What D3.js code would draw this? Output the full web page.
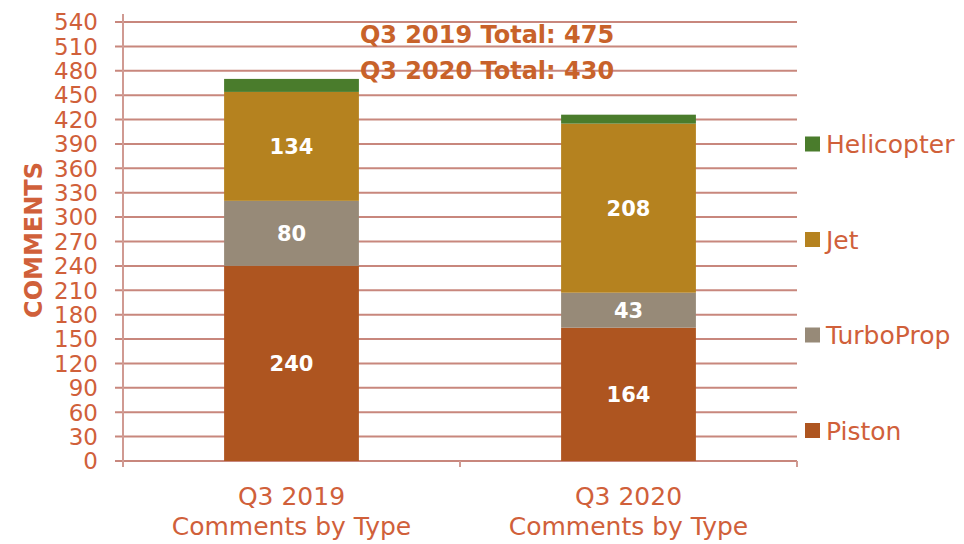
<!DOCTYPE html>
<html>
<head>
<meta charset="utf-8">
<script src="https://cdn.jsdelivr.net/npm/d3@7"></script>
<style>
  body { margin: 0; background: #fff; }
  svg { font-family: "DejaVu Sans", sans-serif; }
</style>
</head>
<body>
<div id="chart"></div>
<script>
// data
var categories = ["Q3 2019", "Q3 2020"];
var seriesNames = ["Piston", "TurboProp", "Jet", "Helicopter"];
var piston = [240, 164];
var turboProp = [80, 43];
var jet = [134, 208];
var helicopter = [16, 11];
var totals = [475, 430];
var yTicks = d3.range(0, 541, 30);

var colors = {
  Piston: "#ae5520",
  TurboProp: "#978a78",
  Jet: "#b5821f",
  Helicopter: "#4a7c2c"
};
var textColor = "#d0603a";
var gridColor = "#c8877d";

var width = 964, height = 544;
var margin = { top: 22, right: 167, bottom: 83, left: 123 };
var plotW = width - margin.left - margin.right;
var plotH = height - margin.top - margin.bottom;

var svg = d3.select("#chart").append("svg")
  .attr("width", width)
  .attr("height", height);

var chartGroup = svg.append("g")
  .attr("transform", `translate(${margin.left}, ${margin.top})`);

// build rows for the stack
var rows = categories.map(function (c, i) {
  return { cat: c, Piston: piston[i], TurboProp: turboProp[i], Jet: jet[i], Helicopter: helicopter[i] };
});
var stacked = d3.stack().keys(seriesNames)(rows);

var xScale = d3.scaleBand().domain(categories).range([0, plotW]).padding(0);
var yScale = d3.scaleLinear().domain([0, 540]).range([plotH, 0]);

// gridlines
chartGroup.append("g")
  .selectAll("line")
  .data(yTicks)
  .enter()
  .append("line")
  .attr("x1", -8)
  .attr("x2", plotW)
  .attr("y1", d => yScale(d))
  .attr("y2", d => yScale(d))
  .attr("stroke", gridColor)
  .attr("stroke-width", 2);

// y axis line
chartGroup.append("line")
  .attr("x1", 0).attr("x2", 0)
  .attr("y1", -8).attr("y2", plotH + 6)
  .attr("stroke", "#d09a92")
  .attr("stroke-width", 2);

// category boundary ticks
chartGroup.append("g")
  .selectAll("line")
  .data([1, 2])
  .enter()
  .append("line")
  .attr("x1", d => d === 2 ? plotW : xScale(categories[d]))
  .attr("x2", d => d === 2 ? plotW : xScale(categories[d]))
  .attr("y1", plotH)
  .attr("y2", plotH + 6)
  .attr("stroke", "#d09a92")
  .attr("stroke-width", 2);

// y tick labels
chartGroup.append("g")
  .selectAll("text")
  .data(yTicks)
  .enter()
  .append("text")
  .attr("x", -25)
  .attr("y", d => yScale(d))
  .attr("dy", "0.36em")
  .attr("text-anchor", "end")
  .attr("font-size", "23px")
  .attr("fill", textColor)
  .text(d => d);

// bars
var barW = xScale.bandwidth() * 0.4;
var layers = chartGroup.append("g")
  .selectAll("g")
  .data(stacked)
  .enter()
  .append("g")
  .attr("fill", d => colors[d.key]);

layers.selectAll("rect")
  .data(d => d)
  .enter()
  .append("rect")
  .attr("x", d => xScale(d.data.cat) + (xScale.bandwidth() - barW) / 2)
  .attr("y", d => yScale(d[1]))
  .attr("width", barW)
  .attr("height", d => yScale(d[0]) - yScale(d[1]));

// value labels (not helicopter)
stacked.filter(s => s.key !== "Helicopter").forEach(function (s) {
  chartGroup.append("g")
    .selectAll("text")
    .data(s)
    .enter()
    .append("text")
    .attr("x", d => xScale(d.data.cat) + xScale.bandwidth() / 2)
    .attr("y", d => yScale((d[0] + d[1]) / 2))
    .attr("dy", "0.36em")
    .attr("text-anchor", "middle")
    .attr("font-size", "21px")
    .attr("font-weight", "bold")
    .attr("fill", "white")
    .text(d => d[1] - d[0]);
});

// category labels
var catLabels = chartGroup.append("g")
  .selectAll("text")
  .data(categories)
  .enter()
  .append("text")
  .attr("x", d => xScale(d) + xScale.bandwidth() / 2)
  .attr("y", plotH + 44)
  .attr("text-anchor", "middle")
  .attr("font-size", "25px")
  .attr("fill", textColor);
catLabels.append("tspan").attr("x", d => xScale(d) + xScale.bandwidth() / 2).text(d => d);
catLabels.append("tspan").attr("x", d => xScale(d) + xScale.bandwidth() / 2).attr("dy", 30).text("Comments by Type");

// y axis title
svg.append("text")
  .attr("transform", "translate(42, 240) rotate(-90)")
  .attr("text-anchor", "middle")
  .attr("font-size", "24px")
  .attr("font-weight", "bold")
  .attr("fill", textColor)
  .text("COMMENTS");

// totals
svg.append("g")
  .selectAll("text")
  .data(categories)
  .enter()
  .append("text")
  .attr("x", 487)
  .attr("y", (d, i) => 34 + i * 36)
  .attr("dy", "0.36em")
  .attr("text-anchor", "middle")
  .attr("font-size", "24px")
  .attr("font-weight", "bold")
  .attr("fill", "#c8622a")
  .text((d, i) => `${d} Total: ${totals[i]}`);

// legend
var legend = svg.append("g")
  .selectAll("g")
  .data(seriesNames.slice().reverse())
  .enter()
  .append("g")
  .attr("transform", (d, i) => `translate(805, ${144 + i * 95.5})`);
legend.append("rect")
  .attr("y", -7.5)
  .attr("width", 15)
  .attr("height", 15)
  .attr("fill", d => colors[d]);
legend.append("text")
  .attr("x", 21)
  .attr("dy", "0.36em")
  .attr("font-size", "25px")
  .attr("fill", textColor)
  .text(d => d);
</script>
</body>
</html>
